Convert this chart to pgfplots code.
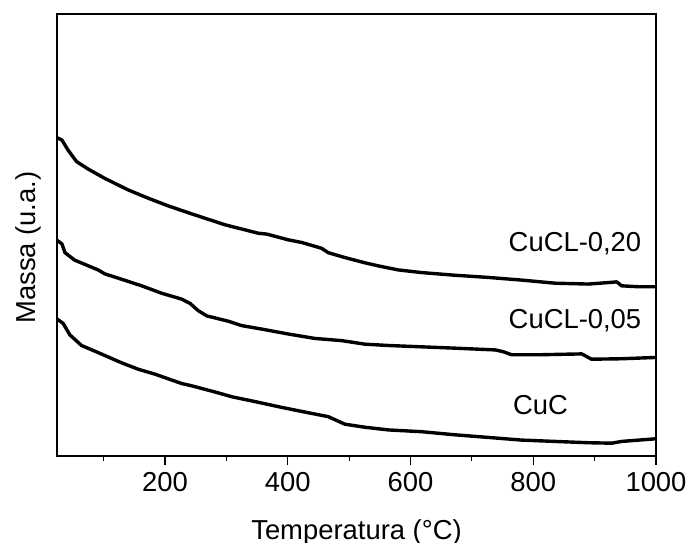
\documentclass[border=0pt]{standalone}
\usepackage{fontspec}
\setmainfont{Liberation Sans}
\usepackage{pgfplots}
\pgfplotsset{compat=1.18}
\pgfplotstableread{
x y
24 7.20
32 7.15
42 6.92
56 6.66
75 6.49
102 6.28
140 6.02
173 5.83
205 5.66
243 5.48
298 5.23
352 5.04
366 5.02
401 4.89
423 4.83
455 4.70
466 4.60
493 4.49
526 4.37
548 4.30
580 4.21
618 4.15
672 4.09
727 4.04
781 3.98
835 3.91
890 3.89
928 3.93
936 3.94
944 3.85
971 3.83
1000 3.83
}\cuclb
\pgfplotstableread{
x y
24 4.88
32 4.80
37 4.60
53 4.43
91 4.21
102 4.12
129 4.00
162 3.85
195 3.68
227 3.55
241 3.45
254 3.29
268 3.17
303 3.05
325 2.95
358 2.87
401 2.76
444 2.66
488 2.61
526 2.53
564 2.50
618 2.47
672 2.44
738 2.40
751 2.36
765 2.29
808 2.29
879 2.31
895 2.19
944 2.20
1000 2.23
}\cucla
\pgfplotstableread{
x y
24 3.10
34 3.00
45 2.74
64 2.50
91 2.34
129 2.11
157 1.96
184 1.85
227 1.64
243 1.59
281 1.45
309 1.34
347 1.23
390 1.10
433 0.98
466 0.89
493 0.72
526 0.65
564 0.59
618 0.55
672 0.48
727 0.42
781 0.36
835 0.33
890 0.30
928 0.29
944 0.33
1000 0.39
}\cuc
\begin{document}
\begin{tikzpicture}
\useasboundingbox (-28.5bp,-43.5bp) rectangle (316.5bp,228bp);
\begin{axis}[
  at={(0,0)}, anchor=south west,
  scale only axis, width=299.5bp, height=221bp,
  xmin=24, xmax=1000, ymin=0, ymax=10,
  font=\fontsize{13.7bp}{16bp}\selectfont,
  /pgf/number format/assume math mode=true,
  /pgf/number format/1000 sep={},
  axis line style={line width=0.6bp},
  every tick/.style={line width=0.6bp, black},
  every minor tick/.style={line width=0.6bp, black},
  tick align=outside,
  major tick length=4.5bp, minor tick length=2.5bp,
  xtick={200,400,600,800,1000},
  minor xtick={100,300,500,700,900},
  ytick=\empty,
  minor ytick={1,2,3,4,5,6,7,8,9},
  xtick pos=bottom, ytick pos=left,
  xlabel={Temperatura (°C)},
  ylabel={Massa (u.a.)},
  xlabel style={at={(axis description cs:0.5,-0.189)}, anchor=base},
  ylabel style={at={(axis description cs:-0.0367,0.4717)}, anchor=base},
]
\addplot[black, line width=1.7bp, line join=round] table[x=x,y=y] {\cuclb};
\addplot[black, line width=1.7bp, line join=round] table[x=x,y=y] {\cucla};
\addplot[black, line width=1.7bp, line join=round] table[x=x,y=y] {\cuc};
\node[anchor=base] at (axis cs:868,4.62) {CuCL-0,20};
\node[anchor=base] at (axis cs:868,2.89) {CuCL-0,05};
\node[anchor=base] at (axis cs:812,0.93) {CuC};
\end{axis}
\end{tikzpicture}
\end{document}
